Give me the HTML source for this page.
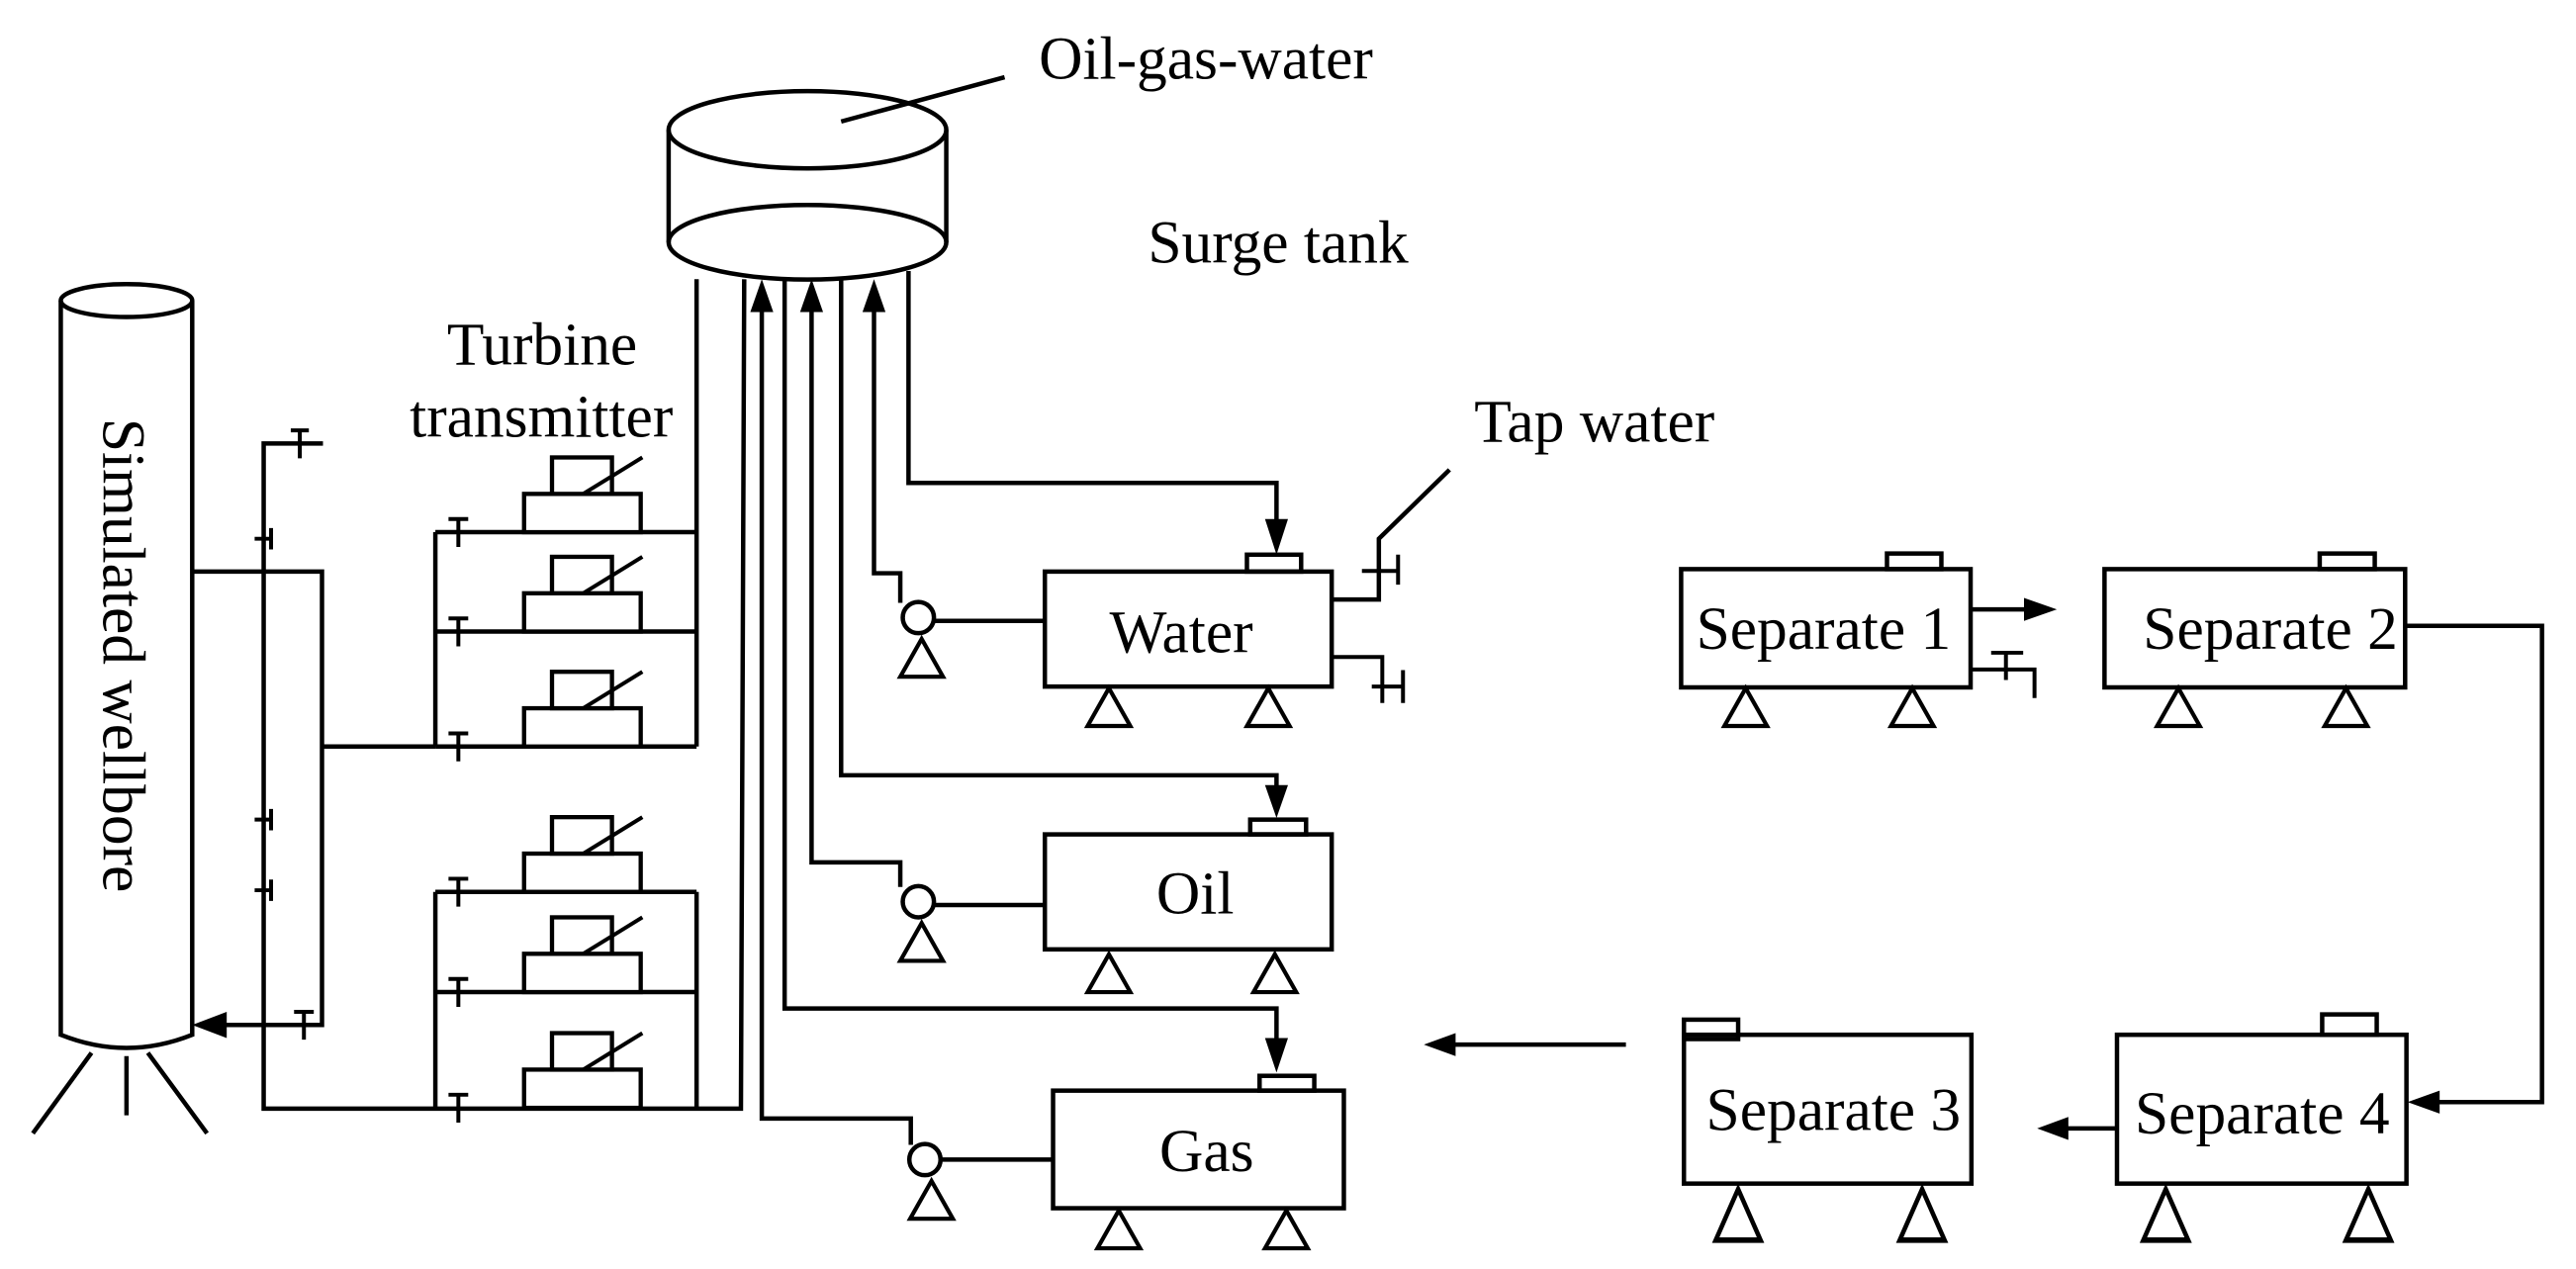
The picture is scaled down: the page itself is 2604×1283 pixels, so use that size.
<!DOCTYPE html>
<html><head><meta charset="utf-8"><style>
html,body{margin:0;padding:0;background:#fff;}
svg{display:block;}
text{font-family:"Liberation Serif",serif;font-size:37px;fill:#000;}
</style></head><body>
<svg width="2604" height="1283" viewBox="0 0 1568 772.6" preserveAspectRatio="none" xmlns="http://www.w3.org/2000/svg">
<defs>
<g id="tr">
<rect x="319" y="-23.3" width="71" height="23.3" fill="#fff" stroke="#000" stroke-width="2.6"/>
<rect x="336" y="-45.5" width="36.5" height="22.2" fill="#fff" stroke="#000" stroke-width="2.6"/>
<line x1="355" y1="-23.3" x2="391" y2="-45.5" stroke="#000" stroke-width="2.4"/>
<path d="M273,-8 h12 M279,-8 v17" stroke="#000" stroke-width="2.4" fill="none"/>
</g>
<g id="foot"><path d="M0,0 L-13,23 L13,23 Z" fill="#fff" stroke="#000" stroke-width="2.5"/></g>
</defs>
<g fill="none" stroke="#000" stroke-width="2.7">
<ellipse cx="77" cy="183" rx="40" ry="10"/>
<path d="M37,183 V630 Q77,646 117,630 V183"/>
<path d="M55.7,641 L20,690 M77,643 V679 M90,641 L126,690"/>
<path d="M117,348 H196 V624 H136"/>
<path d="M196,454.5 H265"/>
<path d="M179,616 h12 M185,616 v17" stroke-width="2.4"/>
<path d="M196.6,270 H160.5 V675 H451 L453,170"/>
<path d="M177,262 h11 M182.5,262 v17" stroke-width="2.4"/>
<path d="M155,328 h10 M165,321.5 v13 M155,499 h10 M165,492.5 v13 M155,542 h10 M165,535.5 v13" stroke-width="2.4"/>
<path d="M265,324 V454.5 M265,324 H424 M265,384.5 H424 M265,454.5 H424 M424,170 V454.5"/>
<path d="M265,543 V675 M265,543 H424 M265,604 H424 M424,543 V675"/>
<ellipse cx="491.5" cy="79" rx="84.5" ry="23.5"/>
<ellipse cx="491.5" cy="147.5" rx="84.5" ry="22.7"/>
<path d="M407,79 V147.5 M576,79 V147.5"/>
<path d="M512,74 L611.5,47"/>
<path d="M463.7,190 V681 H554.4 V697"/>
<path d="M477.6,170 V614 H777 V633"/>
<path d="M572,706 H641"/>
<circle cx="563" cy="706" r="9.5"/>
<rect x="641" y="664" width="177" height="71.6"/>
<rect x="766.7" y="655" width="33.3" height="9"/>
<path d="M494,190 V525 H548 V540"/>
<path d="M512,170 V472 H777 V480"/>
<path d="M568,551 H636"/>
<circle cx="559" cy="549" r="9.5"/>
<rect x="636" y="508" width="174.6" height="70"/>
<rect x="761" y="499" width="34" height="9"/>
<path d="M532,190 V349 H548 V367"/>
<path d="M553,165 V294 H777 V318"/>
<path d="M568,378 H636"/>
<circle cx="559" cy="376" r="9.5"/>
<rect x="636" y="348" width="174.6" height="70"/>
<rect x="759" y="337.7" width="33" height="10.3"/>
<path d="M810.6,365 H839.3 V328 L882.3,286"/>
<path d="M829,347.6 H850 M851,337.7 V356" stroke-width="2.4"/>
<path d="M810.6,400 H841.4 V428 M835,418 H854 M854,408 V428" stroke-width="2.4"/>
<path d="M989.7,636 H884"/>
<rect x="1023.3" y="346.5" width="176.2" height="72"/>
<rect x="1148.6" y="337" width="33.1" height="9.5"/>
<path d="M1199.5,371 H1234"/>
<path d="M1199.5,407.6 H1238.4 V425 M1212,397.4 H1231.5 M1221,397.4 V414" stroke-width="2.4"/>
<rect x="1281" y="346.5" width="183" height="72"/>
<rect x="1412" y="337" width="33.5" height="9.5"/>
<path d="M1464,381 H1547.3 V671 H1484"/>
<rect x="1288.6" y="630" width="176.2" height="90.6"/>
<rect x="1413.5" y="617.6" width="33.2" height="12.4"/>
<path d="M1288.6,687 H1258"/>
<rect x="1025" y="630" width="175" height="90.6"/>
<rect x="1025" y="620.8" width="33" height="11.8"/>
</g>
<use href="#tr" transform="translate(0,324)"/>
<use href="#tr" transform="translate(0,384.5)"/>
<use href="#tr" transform="translate(0,454.5)"/>
<use href="#tr" transform="translate(0,543)"/>
<use href="#tr" transform="translate(0,604)"/>
<use href="#tr" transform="translate(0,674.5)"/>
<use href="#foot" transform="translate(567,719)"/>
<use href="#foot" transform="translate(561,562)"/>
<use href="#foot" transform="translate(561,389)"/>
<use href="#foot" transform="translate(681,737)"/>
<use href="#foot" transform="translate(783,737)"/>
<use href="#foot" transform="translate(675,581)"/>
<use href="#foot" transform="translate(776,581)"/>
<use href="#foot" transform="translate(675,419)"/>
<use href="#foot" transform="translate(772,419)"/>
<use href="#foot" transform="translate(1062.6,419)"/>
<use href="#foot" transform="translate(1164,419)"/>
<use href="#foot" transform="translate(1326,419)"/>
<use href="#foot" transform="translate(1428,419)"/>
<use href="#foot" transform="translate(1058,724) scale(1.05,1.35)"/>
<use href="#foot" transform="translate(1170,724) scale(1.05,1.35)"/>
<use href="#foot" transform="translate(1318.3,724) scale(1.05,1.35)"/>
<use href="#foot" transform="translate(1441.6,724) scale(1.05,1.35)"/>
<g fill="#000">
<path d="M117,624 L138,616 L138,632 Z"/>
<path d="M463.7,170 L456.7,190 L470.7,190 Z"/>
<path d="M494,170 L487,190 L501,190 Z"/>
<path d="M532,170 L525,190 L539,190 Z"/>
<path d="M777,653 L770,632 L784,632 Z"/>
<path d="M777,498 L770,478 L784,478 Z"/>
<path d="M777,337.7 L770,316 L784,316 Z"/>
<path d="M866.7,636 L886,629 L886,643 Z"/>
<path d="M1252,371 L1232,364 L1232,378 Z"/>
<path d="M1465.5,671 L1485,664 L1485,678 Z"/>
<path d="M1240,687 L1259,680 L1259,694 Z"/>
</g>
<text x="75" y="399" transform="rotate(90 75 399)" text-anchor="middle" dy="12">Simulated wellbore</text>
<text x="330" y="222" text-anchor="middle">Turbine</text>
<text x="329.5" y="266" text-anchor="middle">transmitter</text>
<text x="734" y="48" text-anchor="middle">Oil-gas-water</text>
<text x="778" y="160" text-anchor="middle">Surge tank</text>
<text x="970.5" y="269" text-anchor="middle">Tap water</text>
<text x="719" y="397" text-anchor="middle">Water</text>
<text x="727.5" y="556" text-anchor="middle">Oil</text>
<text x="734.5" y="713" text-anchor="middle">Gas</text>
<text x="1110" y="395" text-anchor="middle">Separate 1</text>
<text x="1382" y="395" text-anchor="middle">Separate 2</text>
<text x="1116" y="688" text-anchor="middle">Separate 3</text>
<text x="1377" y="690" text-anchor="middle">Separate 4</text>
</svg>
</body></html>
